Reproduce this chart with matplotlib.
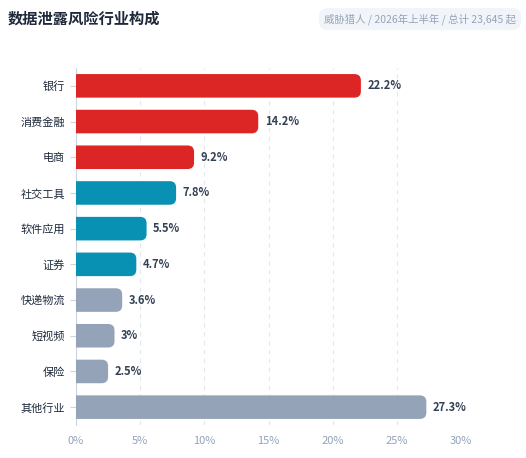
import matplotlib.pyplot as plt
from matplotlib.patches import FancyBboxPatch

plt.rcParams['font.family'] = ['Noto Sans CJK SC', 'DejaVu Sans']

industries = ["银行", "消费金融", "电商", "社交工具", "软件应用", "证券", "快递物流", "短视频", "保险", "其他行业"]
shares = [22.2, 14.2, 9.2, 7.8, 5.5, 4.7, 3.6, 3, 2.5, 27.3]
groups = ["red", "red", "red", "teal", "teal", "teal", "gray", "gray", "gray", "gray"]
palette = {"red": "#dc2626", "teal": "#0891b2", "gray": "#94a3b8"}
xticks = [0, 5, 10, 15, 20, 25, 30]

fig = plt.figure(figsize=(5.26, 4.58), dpi=100)
ax = fig.add_axes([76/526, 33/458, 385/526, 357/458])

n = len(industries)
h = 0.66
for i, (v, g) in enumerate(zip(shares, groups)):
    y = n - 1 - i
    box = FancyBboxPatch((-1, y - h/2), v + 1, h, boxstyle="round,pad=0,rounding_size=0.5",
                         mutation_aspect=0.36, fc=palette[g], ec="none", zorder=3)
    ax.add_patch(box)
    lbl = f"{v:g}%"
    ax.text(v + 0.5, y, lbl, va="center", ha="left", fontsize=8, fontweight="bold", color="#334155")

ax.set_xlim(0, 30)
ax.set_ylim(-0.5, n - 0.5)
ax.set_yticks(range(n))
ax.set_yticklabels(industries[::-1], fontsize=8, color="#1e293b")
ax.set_xticks(xticks)
ax.set_xticklabels([f"{t}%" for t in xticks], fontsize=8, color="#94a3b8")
ax.grid(axis="x", color="#e2e8f0", linestyle=(0, (4, 4)), linewidth=0.8, zorder=0)
for s in ["top", "right", "bottom"]:
    ax.spines[s].set_visible(False)
ax.spines["left"].set_color("#cbd5e1")
ax.tick_params(axis="y", length=4, color="#cbd5e1", pad=4)
ax.tick_params(axis="x", length=0, pad=8)

fig.text(8/526, 1 - 19/458, "数据泄露风险行业构成", fontsize=11, fontweight="bold", color="#1e293b", va="center")
fig.text(516/526, 1 - 19/458, "威胁猎人 / 2026年上半年 / 总计 23,645 起", fontsize=7.5, color="#94a3b8",
         ha="right", va="center",
         bbox=dict(boxstyle="round,pad=0.5,rounding_size=0.9", fc="#f1f5f9", ec="none"))

fig.savefig("out.png", dpi=100)
